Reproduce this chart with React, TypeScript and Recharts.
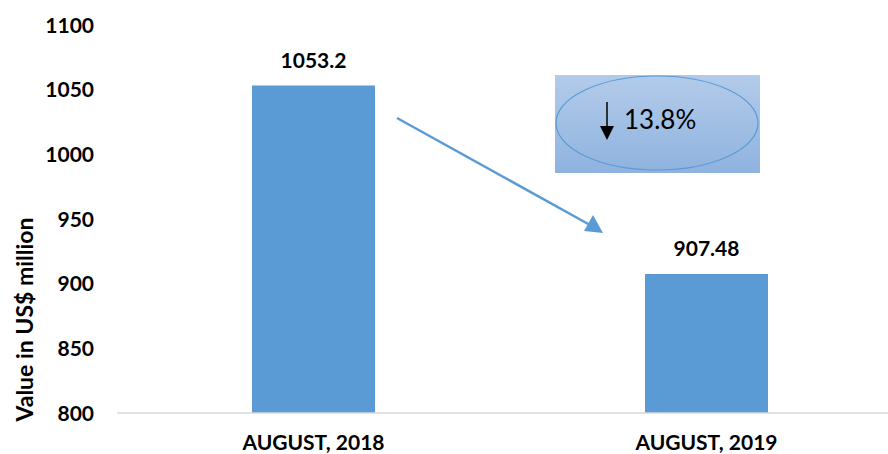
import { BarChart, Bar, XAxis, YAxis, LabelList } from 'recharts';

const months = ['AUGUST, 2018', 'AUGUST, 2019'];
const exportValues = [1053.2, 907.48];
const yTicks = [800, 850, 900, 950, 1000, 1050, 1100];
const changeLabel = '13.8%';

const data = months.map((month, i) => ({ month, value: exportValues[i] }));

const FONT = 'Lato, "Open Sans", sans-serif';
const BLUE = '#5b9bd5';

function YTick({ y, payload }: any) {
  return (
    <text x={94} y={y} dy={7.5} textAnchor="end" fontFamily={FONT} fontWeight={700} fontSize={21} fill="#000">
      {payload.value}
    </text>
  );
}

function XTick({ x, y, payload }: any) {
  return (
    <text x={x} y={y} dy={35} textAnchor="middle" fontFamily={FONT} fontWeight={700} fontSize={21} fill="#000">
      {payload.value}
    </text>
  );
}

function TopLabel({ x, y, width, value }: any) {
  return (
    <text x={x + width / 2} y={y - 18} textAnchor="middle" fontFamily={FONT} fontWeight={700} fontSize={21} fill="#000">
      {value}
    </text>
  );
}

export default function App() {
  return (
    <div style={{ position: 'fixed', left: 0, top: 0, width: 888, height: 454, overflow: 'hidden', background: '#fff' }}>
      <BarChart width={920} height={454} data={data} margin={{ top: 25, right: 17, left: 0, bottom: 0 }}>
        <XAxis
          dataKey="month"
          height={41}
          tickLine={false}
          tickSize={0}
          tick={<XTick />}
          axisLine={{ stroke: '#d9d9d9', strokeWidth: 1.5 }}
        />
        <YAxis
          width={117}
          domain={[800, 1100]}
          ticks={yTicks}
          axisLine={false}
          tickLine={false}
          tickSize={0}
          tick={<YTick />}
        />
        <Bar dataKey="value" fill={BLUE} barSize={123} isAnimationActive={false}>
          <LabelList dataKey="value" content={<TopLabel />} />
        </Bar>
      </BarChart>
      <svg width={888} height={454} style={{ position: 'absolute', left: 0, top: 0, pointerEvents: 'none' }}>
        <defs>
          <linearGradient id="boxFill" x1="0" y1="0" x2="0" y2="1">
            <stop offset="0%" stopColor="#b3cbea" />
            <stop offset="100%" stopColor="#8fb3df" />
          </linearGradient>
        </defs>
        <text
          transform="translate(33 319.5) rotate(-90)"
          textAnchor="middle"
          fontFamily={FONT}
          fontWeight={700}
          fontSize={23}
          fill="#000"
        >
          Value in US$ million
        </text>
        {/* trend arrow */}
        <line x1={397} y1={118} x2={590} y2={225} stroke={BLUE} strokeWidth={2.5} />
        <polygon points="603,233 584,231 593,215" fill={BLUE} />
        {/* change box */}
        <rect x={555} y={75} width={205} height={98} fill="url(#boxFill)" />
        <ellipse cx={657} cy={123} rx={101} ry={47} fill="none" stroke={BLUE} strokeWidth={1.2} />
        <line x1={607} y1={102} x2={607} y2={128} stroke="#000" strokeWidth={1.5} />
        <polygon points="600,126 614,126 607,140" fill="#000" />
        <text x={624} y={129} fontFamily={FONT} fontSize={26} fill="#000">
          {changeLabel}
        </text>
      </svg>
    </div>
  );
}
